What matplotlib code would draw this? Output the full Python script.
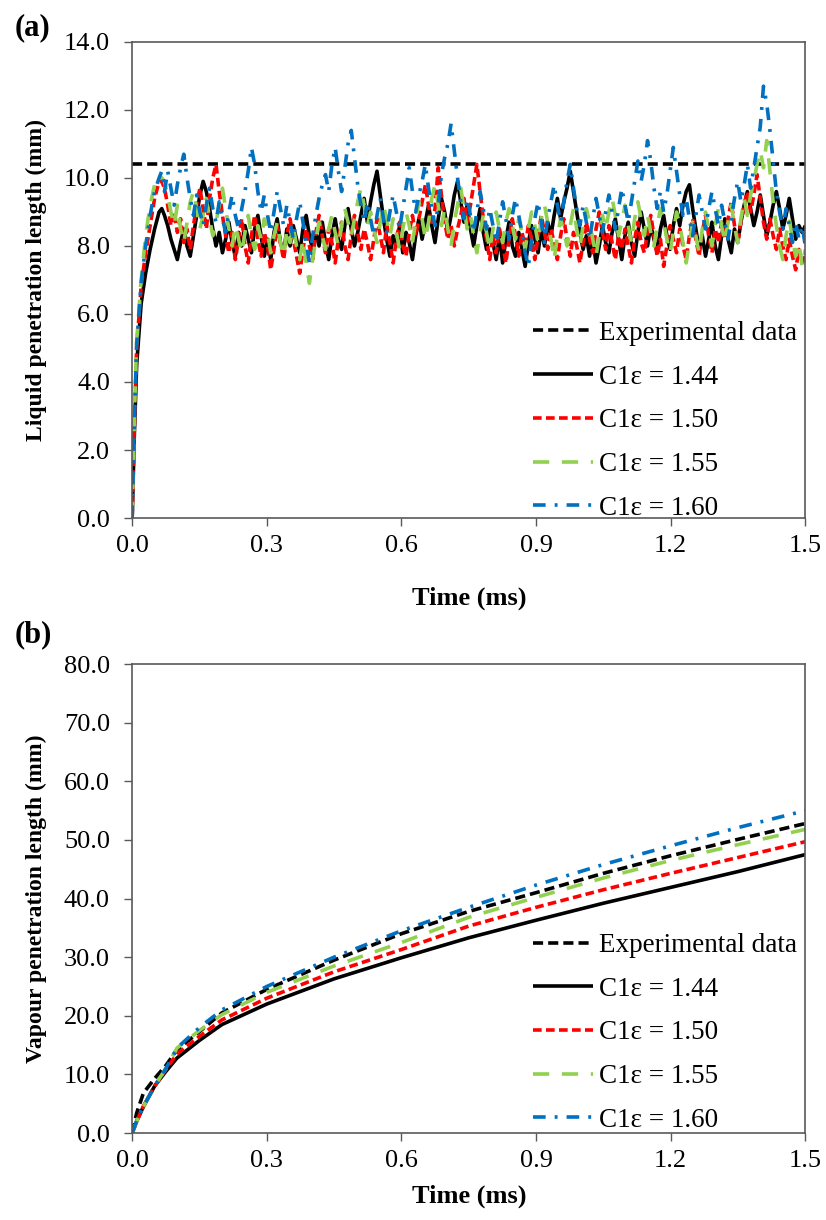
import matplotlib
matplotlib.use('Agg')
import matplotlib.pyplot as plt
import numpy as np

plt.rcParams['font.family'] = ['Liberation Serif', 'DejaVu Serif']

# ---- (a) liquid penetration length ----
exp_liquid = 10.4

t_rise = [0, 0.005, 0.01, 0.02, 0.03, 0.04, 0.05, 0.06, 0.066]
rise_144 = [0, 2.5, 4.5, 6.3, 7.2, 7.9, 8.5, 9.0, 9.1]
rise_150 = [0, 2.8, 5.0, 6.8, 7.8, 8.6, 9.4, 9.9, 9.9]
rise_155 = [0, 3.0, 5.2, 7.0, 8.3, 9.2, 9.8, 10.1, 10.0]
rise_160 = [0, 2.9, 5.1, 6.9, 8.0, 8.9, 9.6, 10.0, 10.2]

# sample times after the rise: 200 outputs between 0.072 ms and 1.5 ms
t_noise = np.linspace(0.072, 1.5, 200)

liq_144 = [8.9, 8.6, 8.2, 7.9, 7.6, 8.1, 8.5, 8.0, 7.7, 8.3,
           8.9, 9.5, 9.9, 9.6, 9.1, 8.5, 8.0, 8.4, 7.8, 8.2,
           8.7, 8.1, 7.7, 8.4, 8.0, 8.6, 8.2, 7.8, 8.5, 8.9,
           8.3, 7.7, 8.2, 7.6, 8.4, 8.8, 8.1, 7.8, 8.5, 8.0,
           8.6, 8.2, 7.8, 8.5, 8.9, 8.3, 7.9, 8.4, 8.0, 8.7,
           8.1, 7.6, 8.3, 8.8, 8.2, 7.9, 8.6, 9.1, 8.5, 8.0,
           8.4, 8.9, 9.4, 8.7, 9.3, 9.8, 10.2, 9.5, 8.8, 8.2,
           7.7, 8.3, 8.0, 8.6, 7.8, 8.4, 8.1, 7.6, 8.3, 8.8,
           8.2, 8.7, 9.2, 8.6, 8.1, 8.8, 9.4, 9.0, 8.4, 8.9,
           9.5, 9.9, 9.3, 8.7, 9.2, 8.5, 8.0, 8.6, 9.1, 8.4,
           7.9, 8.5, 8.1, 7.6, 8.3, 7.5, 8.2, 8.7, 8.0, 7.7,
           8.4, 7.9, 7.4, 8.1, 8.6, 8.2, 7.8, 8.5, 8.0, 8.7,
           8.3, 8.9, 9.4, 8.8, 9.3, 9.7, 10.2, 9.6, 9.0, 8.4,
           7.9, 8.3, 7.7, 8.2, 7.5, 8.0, 8.6, 8.1, 7.8, 8.4,
           8.8, 8.2, 7.6, 8.3, 8.7, 8.1, 7.7, 8.4, 9.0, 8.5,
           8.0, 8.6, 8.2, 7.8, 8.5, 8.9, 8.3, 7.9, 8.6, 9.1,
           8.6, 9.2, 9.6, 9.8, 9.1, 8.5, 7.9, 8.3, 7.7, 8.2,
           8.7, 8.0, 7.6, 8.3, 8.8, 8.2, 7.8, 8.5, 8.1, 8.7,
           9.2, 9.6, 9.1, 8.6, 9.0, 9.5, 8.9, 8.3, 8.7, 9.2,
           9.6, 9.1, 8.5, 8.9, 9.4, 8.8, 8.2, 8.6, 8.4, 8.6]
liq_150 = [9.7, 9.2, 8.6, 9.0, 8.4, 8.8, 8.1, 8.5, 7.9, 8.6,
           9.2, 9.7, 9.1, 8.5, 9.4, 10.0, 10.4, 9.6, 8.9, 8.3,
           7.8, 8.4, 7.6, 8.2, 8.8, 8.0, 7.5, 8.3, 8.9, 8.2,
           7.7, 8.4, 8.0, 7.3, 7.9, 8.6, 8.1, 7.6, 8.3, 8.8,
           8.2, 7.7, 7.2, 7.9, 8.5, 8.0, 7.6, 8.4, 8.9, 8.3,
           7.8, 8.5, 8.1, 7.5, 8.2, 8.7, 8.0, 7.6, 8.3, 8.9,
           8.4, 7.9, 8.5, 8.1, 7.6, 8.2, 8.8, 8.3, 7.8, 8.6,
           8.1, 7.5, 8.2, 8.7, 8.0, 7.7, 8.4, 8.9, 8.3, 8.8,
           9.3, 9.8, 9.2, 8.6, 9.1, 10.3, 9.5, 8.7, 8.2, 8.6,
           8.0, 8.5, 8.9, 9.4, 8.7, 9.2, 9.8, 10.4, 9.6, 8.8,
           8.2, 7.6, 8.3, 7.8, 8.5, 8.1, 7.5, 8.2, 8.8, 8.3,
           7.7, 8.4, 8.0, 8.6, 8.2, 7.6, 8.3, 8.9, 8.4, 7.9,
           8.5, 8.1, 7.6, 8.3, 8.8, 8.2, 7.7, 8.4, 8.0, 7.5,
           8.1, 8.7, 8.2, 7.8, 8.5, 9.0, 8.4, 7.9, 8.6, 8.1,
           7.6, 8.3, 7.9, 8.5, 8.0, 7.5, 8.2, 8.7, 8.1, 7.8,
           8.4, 8.9, 8.3, 7.7, 8.2, 7.4, 8.0, 8.6, 8.2, 7.8,
           8.5, 8.0, 7.6, 8.3, 8.8, 8.2, 7.7, 8.4, 8.9, 8.3,
           7.8, 8.5, 8.1, 8.7, 8.2, 8.8, 9.3, 8.6, 8.1, 8.7,
           9.2, 9.6, 9.0, 9.5, 10.1, 9.4, 8.7, 8.2, 8.8, 8.3,
           7.9, 8.5, 8.0, 7.6, 8.2, 7.7, 7.3, 7.9, 7.5, 7.7]
liq_155 = [9.9, 9.5, 9.0, 8.6, 9.2, 8.5, 8.1, 8.7, 9.3, 9.6,
           9.1, 8.5, 8.9, 9.4, 8.8, 8.3, 8.7, 9.2, 9.7, 9.1,
           8.5, 8.0, 8.6, 8.2, 7.8, 8.4, 8.9, 8.3, 7.9, 8.6,
           8.2, 8.8, 8.4, 7.8, 8.3, 8.7, 8.1, 7.7, 8.5, 8.1,
           8.6, 8.0, 7.6, 8.2, 7.5, 6.9, 7.6, 8.2, 8.7, 8.3,
           7.9, 8.5, 8.9, 8.4, 8.0, 8.6, 9.1, 8.7, 8.3, 8.8,
           9.3, 9.7, 9.2, 8.6, 9.0, 8.5, 8.1, 8.7, 9.2, 8.8,
           8.3, 8.8, 8.4, 7.9, 8.5, 9.0, 8.6, 8.1, 8.7, 9.3,
           8.8, 8.2, 8.7, 9.4, 9.8, 9.2, 8.6, 9.1, 8.5, 8.0,
           8.7, 9.2, 9.7, 9.1, 8.5, 8.9, 8.3, 7.8, 8.4, 8.9,
           8.4, 7.9, 8.5, 9.0, 8.5, 8.1, 8.7, 9.1, 8.6, 8.2,
           8.8, 8.4, 7.9, 8.5, 9.0, 8.6, 8.1, 8.8, 9.2, 8.7,
           8.2, 7.6, 8.3, 8.8, 8.4, 8.0, 8.6, 9.1, 8.5, 8.0,
           8.6, 9.1, 8.7, 8.2, 7.7, 8.3, 8.9, 8.5, 9.0, 9.4,
           8.9, 8.3, 8.7, 9.2, 8.6, 8.1, 8.8, 9.3, 8.8, 8.3,
           8.9, 8.4, 8.0, 8.6, 9.1, 8.7, 8.2, 7.8, 8.4, 9.0,
           8.6, 8.1, 7.5, 8.1, 8.7, 8.3, 7.8, 8.5, 9.0, 8.5,
           8.0, 8.6, 9.1, 8.6, 8.1, 8.7, 9.2, 8.6, 8.1, 8.8,
           9.4, 8.9, 9.5, 9.9, 10.4, 10.8, 10.3, 11.1, 10.2, 9.3,
           8.6, 8.0, 7.6, 8.3, 8.8, 8.2, 7.7, 8.1, 7.4, 7.9]
liq_160 = [9.6, 10.2, 9.7, 9.2, 9.8, 10.3, 10.7, 10.0, 9.4, 8.9,
           9.5, 9.0, 8.6, 9.2, 9.7, 9.1, 8.7, 9.3, 8.8, 8.4,
           9.0, 9.5, 8.9, 8.5, 9.1, 9.6, 10.2, 10.9, 10.4, 9.6,
           9.0, 9.5, 8.9, 8.4, 9.0, 9.6, 9.1, 8.6, 9.2, 8.7,
           8.2, 8.8, 9.3, 8.7, 8.1, 7.5, 8.3, 8.9, 9.4, 9.8,
           10.1, 9.6, 10.4, 10.9, 10.2, 9.6, 10.3, 11.0, 11.4, 10.6,
           9.8, 9.2, 8.7, 9.3, 8.8, 8.3, 8.9, 9.4, 8.8, 8.4,
           9.0, 9.5, 9.0, 8.5, 9.1, 9.7, 10.3, 9.6, 9.0, 9.5,
           9.9, 10.4, 9.7, 9.1, 8.6, 9.2, 10.1, 10.6, 11.0, 11.6,
           10.8, 10.0, 9.3, 8.8, 9.4, 8.9, 8.4, 9.0, 9.6, 9.1,
           8.5, 9.1, 8.6, 8.1, 8.7, 9.3, 8.8, 8.2, 8.9, 9.4,
           8.9, 8.4, 7.8, 7.4, 8.2, 8.8, 9.3, 8.7, 8.1, 8.8,
           9.3, 9.8, 9.2, 8.7, 9.3, 9.9, 10.4, 9.7, 9.1, 8.6,
           9.2, 8.7, 8.2, 8.8, 9.4, 8.9, 8.4, 9.0, 9.5, 9.0,
           8.5, 9.1, 9.7, 9.2, 8.7, 9.3, 9.9, 10.5, 9.9, 10.4,
           11.1, 10.5, 9.7, 9.1, 9.6, 9.0, 9.5, 10.2, 10.9, 10.2,
           9.5, 8.9, 9.4, 8.8, 8.3, 8.9, 9.5, 9.0, 8.5, 9.1,
           9.6, 9.1, 8.6, 9.2, 8.7, 8.2, 8.8, 9.4, 9.9, 9.3,
           9.8, 10.4, 9.7, 10.3, 10.9, 11.5, 12.7, 12.2, 11.4, 10.5,
           9.6, 9.0, 8.5, 9.1, 8.6, 8.1, 8.7, 8.2, 8.6, 8.0]

# ---- (b) vapour penetration length ----
t_vap = [0, 0.01, 0.025, 0.05, 0.075, 0.1, 0.15, 0.2, 0.3, 0.45,
         0.6, 0.75, 0.9, 1.05, 1.2, 1.35, 1.5]
vap_exp = [0, 3.4, 6.8, 9.3, 11.5, 14.2, 17.3, 20.5, 24.5, 29.5,
           34.0, 37.8, 41.0, 44.3, 47.3, 50.1, 52.8]
vap_144 = [0, 2.0, 4.5, 8.0, 10.5, 12.8, 15.8, 18.5, 22.0, 26.3,
           29.9, 33.3, 36.3, 39.2, 41.9, 44.6, 47.5]
vap_150 = [0, 2.0, 4.5, 8.0, 10.8, 13.5, 16.5, 19.3, 23.0, 27.5,
           31.3, 35.3, 38.5, 41.5, 44.3, 47.0, 49.7]
vap_155 = [0, 2.0, 4.5, 8.0, 11.0, 14.5, 17.5, 20.2, 24.0, 28.5,
           32.5, 36.8, 40.2, 43.5, 46.5, 49.2, 51.8]
vap_160 = [0, 2.0, 4.5, 8.0, 11.0, 14.5, 18.0, 21.0, 25.0, 30.0,
           34.5, 38.5, 42.3, 45.8, 49.0, 52.1, 55.0]

labels = ['C1\u03b5 = 1.44', 'C1\u03b5 = 1.50', 'C1\u03b5 = 1.55', 'C1\u03b5 = 1.60']
colors = ['black', '#FF0000', '#92D050', '#0070C0']
dashes = [None, (2.4, 1.2), (4.5, 3.5), (3.5, 2.5, 0.8, 2.5)]
exp_dash = (2.8, 1.4)
lw = 2.6
spine_col = '#595959'

fig = plt.figure(figsize=(8.26, 12.2), dpi=100)
ax1 = fig.add_axes([0.160, 0.5754, 0.815, 0.3902])
ax2 = fig.add_axes([0.160, 0.0713, 0.815, 0.3844])


def style(ax, ymax, ystep, ylabel, xlab_y):
    ax.set_xlim(0, 1.5)
    ax.set_ylim(0, ymax)
    ax.set_xticks(np.arange(0, 1.51, 0.3))
    ax.set_yticks(np.arange(0, ymax + 0.01, ystep))
    ax.xaxis.set_major_formatter(plt.FormatStrFormatter('%.1f'))
    ax.yaxis.set_major_formatter(plt.FormatStrFormatter('%.1f'))
    ax.tick_params(direction='out', length=6, width=1, color=spine_col,
                   labelsize=19)
    ax.tick_params(axis='x', pad=6)
    ax.tick_params(axis='y', pad=10)
    for s in ax.spines.values():
        s.set_color(spine_col)
        s.set_linewidth(1.2)
    ax.set_xlabel('Time (ms)', fontsize=19, fontweight='bold')
    ax.set_ylabel(ylabel, fontsize=17, fontweight='bold')
    ax.xaxis.set_label_coords(0.5, xlab_y)
    ax.yaxis.set_label_coords(-0.127, 0.5)


def draw(ax, x, y, i, label=None):
    line, = ax.plot(x, y, color=colors[i], lw=lw, label=label,
                    solid_capstyle='butt', dash_capstyle='butt')
    if dashes[i] is not None:
        line.set_dashes(dashes[i])


# (a)
ax1.axhline(exp_liquid, color='black', lw=lw, dashes=exp_dash,
            label='Experimental data')
liq_series = [(rise_144, liq_144), (rise_150, liq_150),
              (rise_155, liq_155), (rise_160, liq_160)]
for i, (r, v) in enumerate(liq_series):
    draw(ax1, list(t_rise) + list(t_noise), list(r) + list(v), i, labels[i])
style(ax1, 14, 2, 'Liquid penetration length (mm)', -0.143)

# (b)
ax2.plot(t_vap, vap_exp, color='black', lw=lw, dashes=exp_dash,
         label='Experimental data')
for i, v in enumerate([vap_144, vap_150, vap_155, vap_160]):
    draw(ax2, t_vap, v, i, labels[i])
style(ax2, 80, 10, 'Vapour penetration length (mm)', -0.111)

for ax, anchor_y in ((ax1, -0.017), (ax2, -0.011)):
    ax.legend(loc='lower right', bbox_to_anchor=(0.995, anchor_y),
              frameon=False, fontsize=19.5,
              handlelength=2.2, handletextpad=0.22, labelspacing=0.69,
              borderaxespad=0.0, borderpad=0.2)

fig.text(0.018, 0.977, '(a)', fontsize=22, fontweight='bold', va='center')
fig.text(0.018, 0.4795, '(b)', fontsize=22, fontweight='bold', va='center')

plt.savefig('out.png', dpi=100)
